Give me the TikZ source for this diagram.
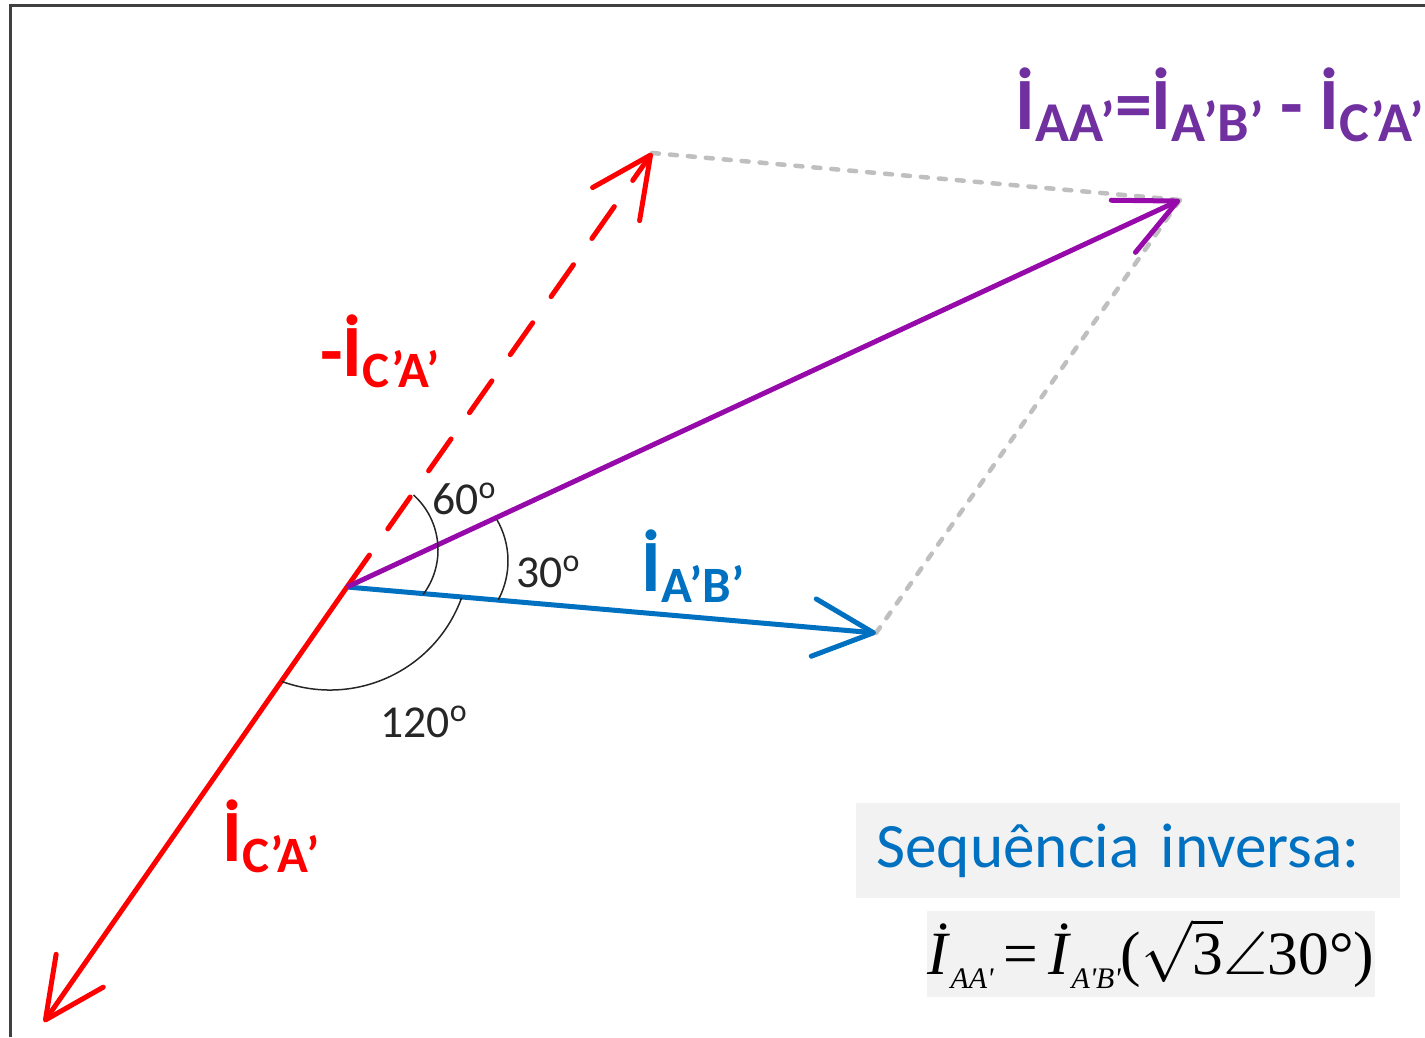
\RequirePackage{fix-cm}
\documentclass[tikz,border=0pt]{standalone}
\usepackage{amsmath,amssymb}
\usepackage{xcolor}
\usepackage{fontspec}
\setmainfont{Carlito}
\newfontfamily\timesfont{Liberation Serif}
\usepackage{tikz}
\usetikzlibrary{arrows.meta}

\definecolor{phred}{RGB}{255,0,0}
\definecolor{phblue}{RGB}{0,112,192}
\definecolor{phpurple}{RGB}{112,48,160}
\definecolor{phline}{RGB}{150,10,170}
\definecolor{boxgray}{RGB}{242,242,242}
\definecolor{dotgray}{RGB}{191,191,191}
\definecolor{framegray}{RGB}{64,64,64}

% phasor with dot and lowered subscript
\newcommand{\phasor}[3][29]{İ\raisebox{-#2}{\fontsize{#1}{#1}\selectfont #3}}
\newcommand{\fsub}[1]{\raisebox{-8pt}{\fontsize{17}{18}\selectfont\itshape #1}}

\begin{document}
\begin{tikzpicture}[
  x=0.02cm, y=0.02cm,
  vec/.style={line width=0.1cm, -{Straight Barb[length=1.2cm, width=1.15cm, round]}},
  helper/.style={line width=0.09cm, dotgray, line cap=round, dash pattern=on 0.14cm off 0.22cm},
  anglearc/.style={line width=0.03cm, black!85},
  anglbl/.style={inner sep=0, anchor=base west, text=black!85,
    font=\fontsize{26}{28}\selectfont},
  veclbl/.style={inner sep=0, anchor=base west,
    font=\fontsize{42}{44}\selectfont\bfseries},
  infobox/.style={fill=boxgray, inner sep=0}
]
\useasboundingbox (0,0) rectangle (1425,1037);

% frame (top and left only)
\draw[framegray, line width=0.06cm] (10.5,0) -- (10.5,1031.5) -- (1425,1031.5);

% phasor end points
\coordinate (O)  at (347,450);
\coordinate (cb) at (44,15);
\coordinate (mc) at (652,884);
\coordinate (ab) at (876,404);
\coordinate (aa) at (1180,837);

% parallelogram helpers
\draw[helper] (mc) -- (aa);
\draw[helper] (ab) -- (aa);

% phasors
\draw[vec, phred, line cap=round] (O) -- (cb);
\draw[vec, phred, dash pattern=on 0.78cm off 0.64cm, line cap=round] (O) -- (mc);
\draw[vec, phblue] (O) -- (ab);
\draw[vec, phline] (O) -- (aa);

% angle arcs
\draw[anglearc] (364,487) ++(48:74) arc[start angle=48, end angle=-37, radius=74];
\draw[anglearc] (425.5,476) ++(30:82.5) arc[start angle=30, end angle=-28, radius=82.5];
\draw[anglearc] (330,487) ++(-20:140) arc[start angle=-20, end angle=-110, radius=140];

\node[anglbl] (a60)  at (432,522) {60\textsuperscript{o}};
\node[anglbl] (a30)  at (516,449) {30\textsuperscript{o}};
\node[anglbl] (a120) at (380,299) {120\textsuperscript{o}};

% labels
\node[veclbl, text=phpurple] (title) at (1015,907)
  {\phasor[32]{6.8pt}{AA’}=\phasor[32]{6.8pt}{A’B’} - \phasor[32]{6.8pt}{C’A’}};
\node[veclbl, text=phred]  (lmc) at (320,660) {-\phasor{6pt}{C’A’}};
\node[veclbl, text=phblue] (lab) at (641,445) {\phasor{6pt}{A’B’}};
\node[veclbl, text=phred]  (lcb) at (222,175) {\phasor{6pt}{C’A’}};

% result boxes
\node[infobox, anchor=west, text=phblue, text width=10.08cm, align=left,
  inner xsep=0.4cm, minimum height=1.9cm,
  font=\fontsize{36}{40}\selectfont] (seq) at (856,186.5) {Sequência inversa:};
\node[infobox, minimum width=8.96cm, minimum height=1.72cm,
  font=\timesfont\fontsize{35}{37}\selectfont] (formula) at (1151,83)
  {\textit{İ}\fsub{AA'}\,=\,\textit{İ}\fsub{A'B'}($\sqrt{\mbox{3}}$$\angle$30°)};

\end{tikzpicture}
\end{document}
